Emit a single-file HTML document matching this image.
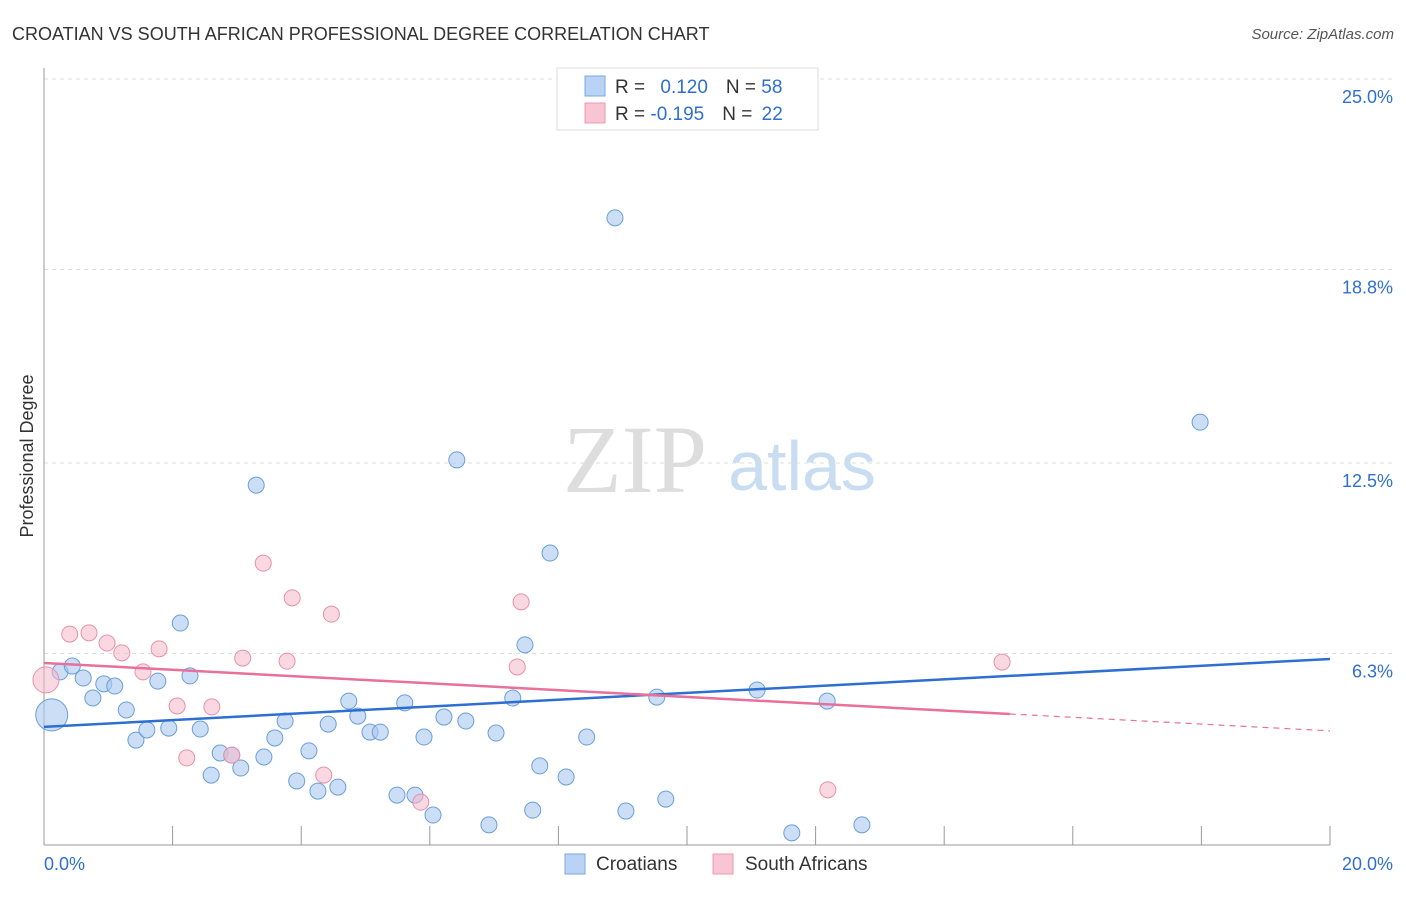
<!DOCTYPE html>
<html><head><meta charset="utf-8"><style>
body{margin:0;background:#fff;font-family:"Liberation Sans",sans-serif;}
</style></head><body>
<svg id="c" width="1406" height="892" xmlns="http://www.w3.org/2000/svg">
<text x="12" y="40" font-size="18" fill="#333">CROATIAN VS SOUTH AFRICAN PROFESSIONAL DEGREE CORRELATION CHART</text>
<text x="1394" y="39" font-size="15" fill="#555" font-style="italic" text-anchor="end">Source: ZipAtlas.com</text>
<text x="635" y="492" font-size="96" fill="#ddd" font-family="Liberation Serif" text-anchor="middle">ZIP</text>
<text x="802" y="490" font-size="70" fill="#c8dcf2" text-anchor="middle">atlas</text>
<text transform="translate(33,456) rotate(-90)" font-size="18" fill="#333" text-anchor="middle">Professional Degree</text>
<g id="grid"></g><g id="pts"></g><g id="lines"></g>
<g>
<rect x="557" y="68" width="261" height="62" fill="#fff" stroke="#ddd"/>
<rect x="585" y="76" width="20" height="20" fill="#b8d3f5" stroke="#7aa8e0"/>
<rect x="585" y="103" width="20" height="20" fill="#f9c4d4" stroke="#eb98b2"/>
<text x="615" y="93" font-size="19" fill="#333">R = <tspan fill="#2f6fd1" dx="10">0.120</tspan><tspan dx="18" fill="#333">N = </tspan><tspan fill="#2f6fd1">58</tspan></text>
<text x="615" y="120" font-size="19" fill="#333">R = <tspan fill="#2f6fd1">-0.195</tspan><tspan dx="18" fill="#333">N = </tspan><tspan fill="#2f6fd1" dx="4">22</tspan></text>
</g>
<g>
<rect x="565" y="854" width="20" height="20" fill="#b8d3f5" stroke="#7aa8e0"/>
<text x="596" y="870" font-size="19" fill="#333">Croatians</text>
<rect x="713" y="854" width="20" height="20" fill="#f9c4d4" stroke="#eb98b2"/>
<text x="745" y="870" font-size="19" fill="#333">South Africans</text>
</g>
</svg>
<script>
const yTicks=[25.0,18.8,12.5,6.3];
const yTickLabels=["25.0%","18.8%","12.5%","6.3%"];
const xTickLabels=["0.0%","20.0%"];
const blueX=[0.12,0.25,0.44,0.61,0.76,0.93,1.10,1.28,1.43,1.60,1.77,1.94,2.12,2.27,2.43,2.60,2.74,2.92,3.06,3.30,3.42,3.59,3.75,3.93,4.12,4.26,4.42,4.57,4.74,4.88,5.07,5.23,5.49,5.61,5.77,5.91,6.05,6.22,6.42,6.56,6.92,7.03,7.29,7.48,7.60,7.71,7.87,8.12,8.44,8.88,9.05,9.53,9.67,11.09,11.63,12.18,12.72,17.98];
const blueY=[4.30,5.70,5.89,5.50,4.85,5.31,5.24,4.46,3.48,3.81,5.40,3.87,7.29,5.57,3.84,2.34,3.06,2.99,2.57,11.78,2.93,3.55,4.10,2.15,3.13,1.82,4.00,1.95,4.75,4.26,3.74,3.74,1.69,4.69,1.69,3.58,1.04,4.23,12.60,4.10,0.72,3.71,4.85,6.58,1.20,2.64,9.57,2.28,3.58,20.48,1.17,4.88,1.56,5.11,0.46,4.75,0.72,13.83];
const pinkX=[0.03,0.40,0.70,0.98,1.21,1.54,1.79,2.07,2.22,2.61,2.92,3.09,3.41,3.78,3.86,4.35,4.47,5.86,7.36,7.42,12.19,14.90];
const pinkY=[5.44,6.93,6.97,6.64,6.32,5.70,6.45,4.59,2.90,4.56,2.99,6.15,9.24,6.05,8.11,2.34,7.58,1.46,5.86,7.98,1.86,6.02];
const blueTrend=[3.91,6.12];
const pinkTrend=[5.99,3.78];
const pinkSolidEnd=15.02;
const NS="http://www.w3.org/2000/svg";
const X=v=>44+v/20*1286, Y=v=>847-v/6.25*192;
function mk(t,a,p){const e=document.createElementNS(NS,t);for(const k in a)e.setAttribute(k,a[k]);document.getElementById(p).appendChild(e);return e;}
yTicks.forEach((t,i)=>{
 const g=mk('line',{x1:44,x2:1395,y1:Y(t),y2:Y(t),stroke:'#ddd','stroke-dasharray':'4,4'},'grid');
 
 
 const l=mk('text',{x:1393,y:Y(t)+24,'font-size':18,fill:'#2f6fd1','text-anchor':'end'},'grid');
 l.textContent=yTickLabels[i];
 
 
});
const ax=mk('line',{x1:44,x2:44,y1:68,y2:845,stroke:'#999'},'grid');


const bx=mk('line',{x1:44,x2:1330,y1:845,y2:845,stroke:'#999'},'grid');


for(let i=0;i<=10;i++){const t=mk('line',{x1:X(i*2),x2:X(i*2),y1:826,y2:845,stroke:'#999'},'grid');
 
 }
xTickLabels.forEach((s,i)=>{const t=mk('text',{x:i?1393:44,y:870,'font-size':18,fill:'#2f6fd1','text-anchor':i?'end':'start'},'grid');t.textContent=s;
 
 });
blueX.forEach((v,i)=>{const c=mk('circle',{cx:X(v),cy:Y(blueY[i]),r:i==0?16:8,fill:'rgba(169,200,240,0.6)',stroke:'#6a9fd8','stroke-width':1},'pts');
 
 });
pinkX.forEach((v,i)=>{const c=mk('circle',{cx:X(v),cy:Y(pinkY[i]),r:i==0?13:8,fill:'rgba(245,184,203,0.55)',stroke:'#e890ab','stroke-width':1},'pts');
 
 });
const bl=mk('line',{x1:X(0),y1:Y(blueTrend[0]),x2:X(20),y2:Y(blueTrend[1]),stroke:'#2d6fd0','stroke-width':2.5},'lines');


const pe=pinkTrend[0]+(pinkTrend[1]-pinkTrend[0])*pinkSolidEnd/20;
const pl=mk('line',{x1:X(0),y1:Y(pinkTrend[0]),x2:X(pinkSolidEnd),y2:Y(pe),stroke:'#e8709a','stroke-width':2.5},'lines');


const pd=mk('line',{x1:X(pinkSolidEnd),y1:Y(pe),x2:X(20),y2:Y(pinkTrend[1]),stroke:'#e8709a','stroke-width':1.2,'stroke-dasharray':'6,5'},'lines');


</script>
</body></html>
